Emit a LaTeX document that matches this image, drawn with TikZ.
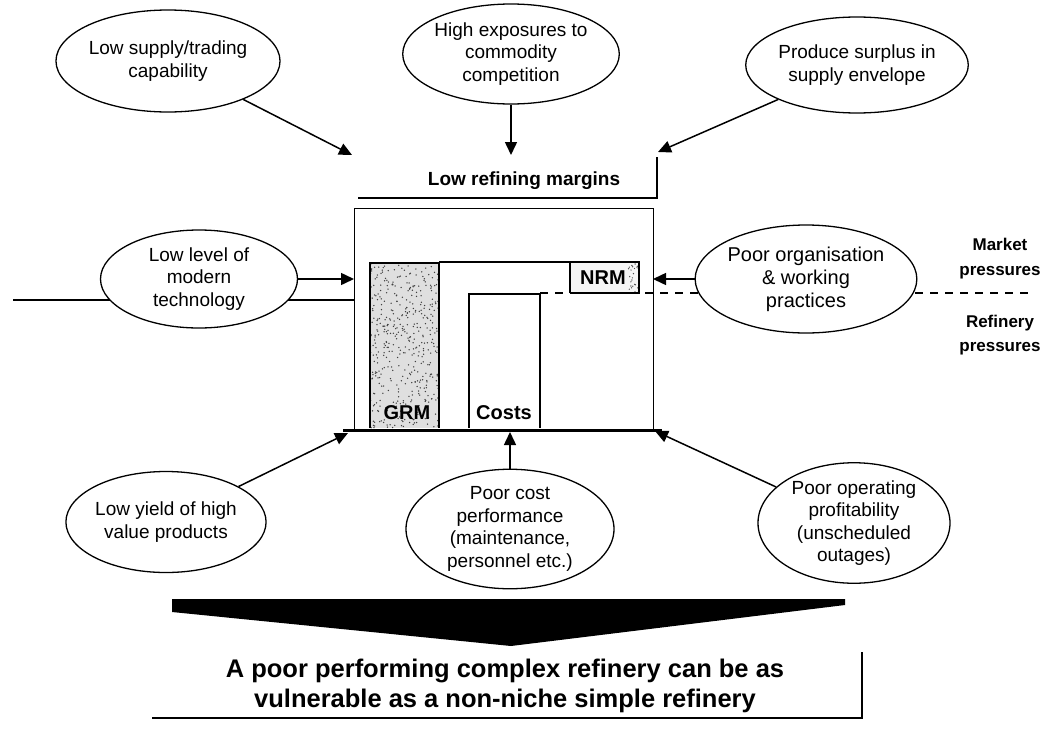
\documentclass[tikz,border=0pt]{standalone}
\usepackage{fontspec}
\setmainfont{Liberation Sans}
\usetikzlibrary{shapes.geometric,arrows.meta}
\begin{document}
\begin{tikzpicture}[x=1pt,y=-1pt,
  cause/.style={ellipse, draw, line width=1.3pt, fill=white, align=center,
    inner sep=0pt, font=\fontsize{19}{22.5}\selectfont},
  link/.style={line width=1.5pt, -{Triangle[length=13pt,width=12pt]}},
  barlabel/.style={font=\bfseries\fontsize{20}{22}\selectfont, inner sep=0pt},
  sidelabel/.style={font=\bfseries\fontsize{17}{25}\selectfont, align=center, inner sep=0pt},
  frameline/.style={line width=2pt},
  barline/.style={line width=1.3pt}]
\useasboundingbox (0,0) rectangle (1049,739);

% ---- pressure divider lines (drawn first, ellipses sit on top) ----
\coordinate (divL) at (13,300);
\coordinate (divLend) at (354,300);
\coordinate (divR) at (540,293);
\coordinate (divRend) at (1028,293);
\draw[line width=1.3pt] (divL) -- (divLend);
\draw[line width=1.3pt, dash pattern=on 8pt off 7pt] (divR) -- (divRend);

% ---- refinery margin box ----
\node[draw, line width=1.3pt, minimum width=299, minimum height=222,
  anchor=north west, inner sep=0pt] (box) at (354,208) {};

% GRM bar with speckled fill
\fill[gray!25] (370,263) rectangle (439,428);
\begin{scope}
  \clip (370,263) rectangle (439,428);
  \pgfmathsetseed{42}
  \foreach \k in {1,...,450}{
    \pgfmathsetmacro{\px}{370+69*rnd}
    \pgfmathsetmacro{\py}{263+165*rnd}
    \fill[black!75] (\px,\py) circle (0.75);
  }
\end{scope}
\draw[barline] (370,428) -- (370,263) -- (439,263) -- (439,428);
\node[barlabel] (grm) at (407,413) {GRM};

% upper band and NRM bar
\draw[barline] (439,262) -- (570,262);
\fill[gray!8] (570,262) rectangle (639,293);
\begin{scope}
  \clip (570,262) rectangle (639,293);
  \pgfmathsetseed{7}
  \foreach \k in {1,...,25}{
    \pgfmathsetmacro{\px}{628+11*rnd}
    \pgfmathsetmacro{\py}{262+31*rnd}
    \fill[black!70] (\px,\py) circle (0.7);
  }
\end{scope}
\draw[barline] (570,293) -- (570,262) -- (639,262) -- (639,293) -- (570,293);
\node[barlabel] (nrm) at (603,278) {NRM};

% Costs bar
\draw[barline] (469,428) -- (469,294) -- (540,294) -- (540,428);
\node[barlabel] (costs) at (504,413) {Costs};

% heavy base line of the box
\coordinate (baseL) at (343,430);
\coordinate (baseR) at (662,430);
\draw[line width=3pt] (baseL) -- (baseR);

% ---- market margin label ----
\node[font=\bfseries\fontsize{19}{21}\selectfont, inner sep=0pt] (lrm) at (524,181) {Low refining margins};
\coordinate (lrmA) at (358,198);
\coordinate (lrmB) at (657,198);
\coordinate (lrmC) at (657,157);
\draw[frameline] (lrmA) -- (lrmB) -- (lrmC);

% ---- causes ----
\node[cause, minimum width=190, minimum height=102] (e1) at (168,61) {Low supply/trading\\capability};
\node[cause, minimum width=165, minimum height=100] (e2) at (511,54) {High exposures to\\commodity\\competition};
\node[cause, minimum width=193, minimum height=96] (e3) at (857,65) {Produce surplus in\\supply envelope};
\node[cause, minimum width=197, minimum height=98] (e4) at (199,279) {Low level of\\modern\\technology};
\node[cause, minimum width=188, minimum height=108, font=\fontsize{20}{23}\selectfont] (e5) at (806,279) {Poor organisation\\\& working\\practices};
\node[cause, minimum width=193, minimum height=101] (e7) at (166,522) {Low yield of high\\value products};
\node[cause, minimum width=208, minimum height=115] (e8) at (510,529) {Poor cost\\performance\\(maintenance,\\personnel etc.)};
\node[cause, minimum width=192, minimum height=100] (e9) at (854,523) {Poor operating\\profitability\\(unscheduled\\outages)};

% arrow tips
\coordinate (t1) at (352,155);
\coordinate (t2) at (511,155);
\coordinate (t3) at (658,152);
\coordinate (t4) at (354,279);
\coordinate (t5) at (653,279);
\coordinate (t7) at (348,433);
\coordinate (t8) at (510,432);
\coordinate (t9) at (655,431);

\draw[link] (e1) -- (t1);
\draw[link] (e2) -- (t2);
\draw[link] (e3) -- (t3);
\draw[link] (e4.east) -- (t4);
\draw[link] (e5.west) -- (t5);
\draw[link] (e7) -- (t7);
\draw[link] (e8) -- (t8);
\draw[link] (e9) -- (t9);

% ---- pressure labels ----
\node[sidelabel] (mkt) at (1000,259) {Market\\pressures};
\node[sidelabel, font=\bfseries\fontsize{17}{24}\selectfont] (ref) at (1000,335) {Refinery\\pressures};

% ---- conclusion ----
\fill (172,599) -- (845,599) -- (845,605) -- (511,646) -- (172,612) -- cycle;
\node[font=\bfseries\fontsize{25.5}{30}\selectfont, align=center, inner sep=0pt] (concl) at (505,686)
  {A poor performing complex refinery can be as\\vulnerable as a non-niche simple refinery};
\coordinate (cA) at (152,718);
\coordinate (cB) at (862,718);
\coordinate (cC) at (862,652);
\draw[frameline] (cA) -- (cB) -- (cC);
\end{tikzpicture}
\end{document}
